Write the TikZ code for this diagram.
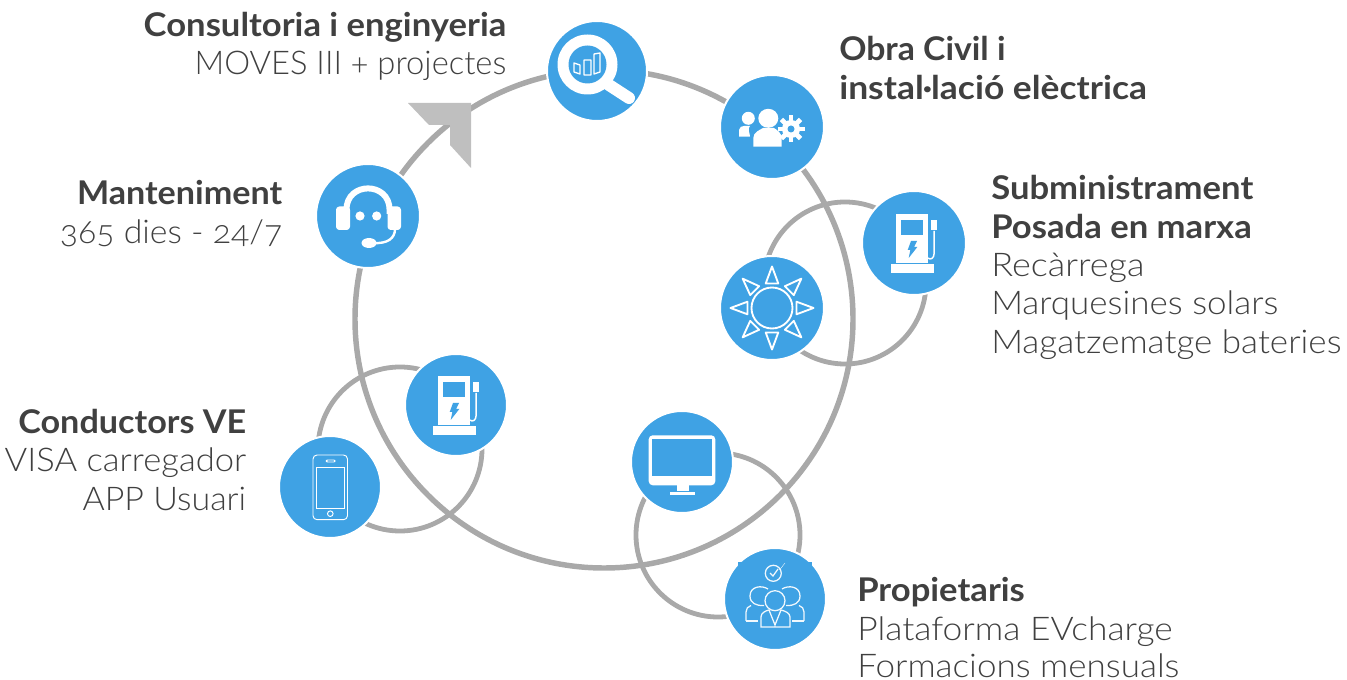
\documentclass[tikz,border=0pt]{standalone}
\usepackage{graphicx}
\usepackage{fontspec}
\setmainfont{Lato}[Numbers=OldStyle]
\newfontfamily\lightfont{Lato Light}[Numbers=OldStyle,FakeStretch=1.072]
\newfontfamily\headfont{Lato Bold}[Numbers=OldStyle,FakeStretch=1.06]
\newcommand{\xfit}[2]{\scalebox{#1}[1]{#2}}
\definecolor{bluefill}{HTML}{3FA2E4}
\definecolor{ringgray}{HTML}{A9A9A9}
\definecolor{arrowgray}{HTML}{BFBFBF}
\definecolor{txtc}{HTML}{404040}
\tikzset{
  px/.style={x=0.75pt,y=-0.75pt},
  bub/.style={circle,fill=bluefill,draw=white,line width=1.5pt,outer sep=0pt,inner sep=0pt,minimum size=#1},
  ring/.style={draw=ringgray,line width=3.6pt},
  bigring/.style={draw=ringgray,line width=4.1pt},
  hd/.style={text=txtc,inner sep=0pt,font=\fontsize{24.5}{28}\selectfont\headfont},
  bd/.style={text=txtc,inner sep=0pt,font=\fontsize{24.5}{28}\selectfont\lightfont},
  stationicon/.pic={
    \fill[white] (-17.7,-28.7) rectangle (14.3,20);
    \fill[bluefill] (-12.7,-23.3) rectangle (9,-8.3);
    \fill[white] (-22.7,20.7) rectangle (20.3,30);
    \fill[bluefill] (-3,-2) -- (3,-2) -- (0,4) -- (3.3,4) -- (-5.3,15) -- (-3.7,7) -- (-6.3,7) -- cycle;
    \fill[white] (17.3,-22.7) rectangle (23,-12.7);
    \draw[white,line width=1.1pt] (20.2,-12) -- (20.2,10) .. controls (20.2,16) and (16,17) .. (14,15);
  },
  headseticon/.pic={
    \draw[white,line width=4.5pt] (-21.6,-6) .. controls (-21.6,-34.8) and (21.6,-34.8) .. (21.6,-6) -- (21.6,-2);
    \draw[white,line width=4.5pt] (-21.6,-6) -- (-21.6,-2);
    \fill[white,rounded corners=2.5pt] (-32,-9.5) rectangle (-18,14);
    \fill[white,rounded corners=2.5pt] (19.5,-9.5) rectangle (33,14);
    \fill[white] (-8,0) circle [radius=4.6];
    \fill[white] (8.7,0) circle [radius=4.6];
    \draw[white,line width=1.8pt] (27,13) .. controls (27,22) and (20,28) .. (5,27);
    \fill[white] (1,27) ellipse [x radius=7.5,y radius=5];
  },
  magicon/.pic={
    \draw[white,line width=9pt,line cap=round] (12,14) -- (32,27);
    \fill[white] (-9.5,-6.5) circle [radius=30];
    \fill[bluefill] (-9.5,-6.5) circle [radius=19];
    \draw[white,line width=1pt,line join=round]
      (-23,-8) -- (-17,-6) -- (-17,3) -- (-23,1) -- cycle
      (-13,-11) -- (-6,-11) -- (-6,4) -- (-13,4) -- cycle
      (-3,-17) -- (3,-18) -- (3,1) -- (-3,3) -- cycle;
  },
  teamicon/.pic={
    \fill[white] (-23.7,-8.7) circle [radius=6.5];
    \fill[white] (-33,9.7) -- (-33,3) .. controls (-33,0) and (-30,-1) .. (-28,-1) -- (-22,-1) .. controls (-25,2) and (-22,6) .. (-22,9.7) -- cycle;
    \fill[white] (-3.7,-8.7) ellipse [x radius=10,y radius=9.5];
    \fill[white] (-18.7,19.7) -- (-18.7,11) .. controls (-18.7,5) and (-12,3) .. (-9,1) -- (2,1) .. controls (5,3) and (9.7,6) .. (9.7,11) -- (9.7,19.7) -- cycle;
    \begin{scope}[shift={(19,2)}]
      \fill[white] (0,0) circle [radius=9];
      \foreach \a in {0,45,...,315}{\fill[white,rotate=\a] (-2.4,-13.5) rectangle (2.4,-7);}
      \fill[bluefill] (0,0) circle [radius=3.5];
    \end{scope}
  },
  sunicon/.pic={
    \draw[white,line width=1.4pt] (0,0) circle [radius=20.5];
    \foreach \a in {0,45,...,315}{
      \draw[white,line width=1.4pt,line join=round,rotate=\a] (-6.3,-24.5) -- (0,-41.5) -- (6.3,-24.5) -- cycle;
    }
  },
  phoneicon/.pic={
    \draw[white,line width=.7pt,rounded corners=3pt] (-17,-32) rectangle (17.5,32.7);
    \draw[white,line width=.7pt] (-13.7,-20) rectangle (14.3,21.7);
    \draw[white,line width=.7pt,rounded corners=.8pt] (-3.7,-27) rectangle (5,-25);
    \draw[white,line width=.7pt] (.3,26.7) circle [radius=2.8];
  },
  monitoricon/.pic={
    \fill[white,rounded corners=3pt] (-33.3,-26.7) rectangle (33.3,23.3);
    \fill[bluefill] (-29.7,-22.7) rectangle (30,14.3);
    \fill[white] (-5.5,23) -- (6.7,23) -- (6.7,29.5) -- (-5.5,29.5) -- cycle;
    \fill[white] (-12.3,30) rectangle (13,33.3);
  },
  peopleicon/.pic={
    \begin{scope}[draw=white!92!bluefill,line width=.95pt]
      \draw (-1.7,-25.7) circle [radius=8];
      \draw (-5,-26) -- (-2,-23) -- (3,-30);
      \draw[line width=.3pt] (4.5,-29) -- (10,-36);
      \draw (0,1.7) circle [radius=10];
      \draw (-7,-10) .. controls (-13,-14) and (-25,-13) .. (-25,-3) .. controls (-25,4) and (-19,7) .. (-11,6.5);
      \draw (7,-10) .. controls (13,-14) and (25,-13) .. (25,-3) .. controls (25,4) and (19,7) .. (11,6.5);
      \draw (-29,22) -- (-29,13) .. controls (-29,10) and (-27,7) .. (-24,6.5);
      \draw (-29,22) -- (-17,22);
      \draw (29,22) -- (29,13) .. controls (29,10) and (27,7) .. (24,6.5);
      \draw (29,22) -- (17,22);
      \draw (-14,28) -- (-14,18) .. controls (-14,14) and (-10,12) .. (-6,11) -- (0,26) -- (6,11) .. controls (10,12) and (15,14) .. (15,18) -- (15,28) -- cycle;
    \end{scope}
  }
}
\begin{document}
\begin{tikzpicture}[px]
\useasboundingbox (0,0) rectangle (1347,680);
% rings
\coordinate (cbig) at (604,319);
\coordinate (cr) at (845,283);
\coordinate (cl) at (400,449);
\coordinate (cb) at (718,535);
\draw[ring] (cr) circle [radius=81];
\draw[ring] (cl) circle [radius=82];
\draw[ring] (cb) circle [radius=82];
\draw[bigring] (cbig) circle [radius=249];
% arrow
\fill[arrowgray] (408,103) -- (471,103) -- (471,168) -- (450,145) -- (450,125) -- (429,125) -- cycle;
% bubbles
\node[bub=75pt] (mag) at (597,71) {};
\node[bub=78pt] (team) at (772,127) {};
\node[bub=78pt] (st1) at (914,243) {};
\node[bub=78pt] (sun) at (772,308) {};
\node[bub=78pt] (head) at (368,216) {};
\node[bub=76.5pt] (st2) at (456,405) {};
\node[bub=76.5pt] (phone) at (330,487) {};
\node[bub=76.5pt] (mon) at (682,462) {};
\node[bub=76.5pt] (ppl) at (775,599) {};
\fill[bluefill] (738,562) rectangle (812,566);
\pic at (mag) {magicon};
\pic at (team) {teamicon};
\pic at (st1) {stationicon};
\pic at (sun) {sunicon};
\pic at (head) {headseticon};
\pic at (st2) {stationicon};
\pic at (phone) {phoneicon};
\pic at (mon) {monitoricon};
\pic at (ppl) {peopleicon};
% text
\node[hd,anchor=base east] (t1) at (506.5,37) {Consultoria i enginyeria};
\node[bd,anchor=base east] (t2) at (506.5,75) {\xfit{.934}{MOVES III + projectes}};
\node[hd,anchor=base west] (t3) at (839,61) {\xfit{.975}{Obra Civil i}};
\node[hd,anchor=base west] (t4) at (839,100) {\xfit{1.023}{instal·lació elèctrica}};
\node[hd,anchor=base west] (t5) at (991,200) {Subministrament};
\node[hd,anchor=base west] (t6) at (991,239) {Posada en marxa};
\node[bd,anchor=base west] (t7) at (991,277) {\xfit{1.03}{Recàrrega}};
\node[bd,anchor=base west] (t8) at (991,315) {Marquesines solars};
\node[bd,anchor=base west] (t9) at (991,353.5) {Magatzematge bateries};
\node[hd,anchor=base east] (t10) at (282.5,205) {\xfit{.985}{Manteniment}};
\node[bd,anchor=base east] (t11) at (282.5,243.5) {\xfit{.965}{365 dies - 24/7}};
\node[hd,anchor=base east] (t12) at (246.5,434) {\xfit{.987}{Conductors VE}};
\node[bd,anchor=base east] (t13) at (246.5,472) {\xfit{.988}{VISA carregador}};
\node[bd,anchor=base east] (t14) at (246.5,510.5) {\xfit{.97}{APP Usuari}};
\node[hd,anchor=base west] (t15) at (857,602) {Propietaris};
\node[bd,anchor=base west] (t16) at (857,640.5) {\xfit{1.01}{Plataforma EVcharge}};
\node[bd,anchor=base west] (t17) at (857,678) {Formacions mensuals};
\end{tikzpicture}
\end{document}
